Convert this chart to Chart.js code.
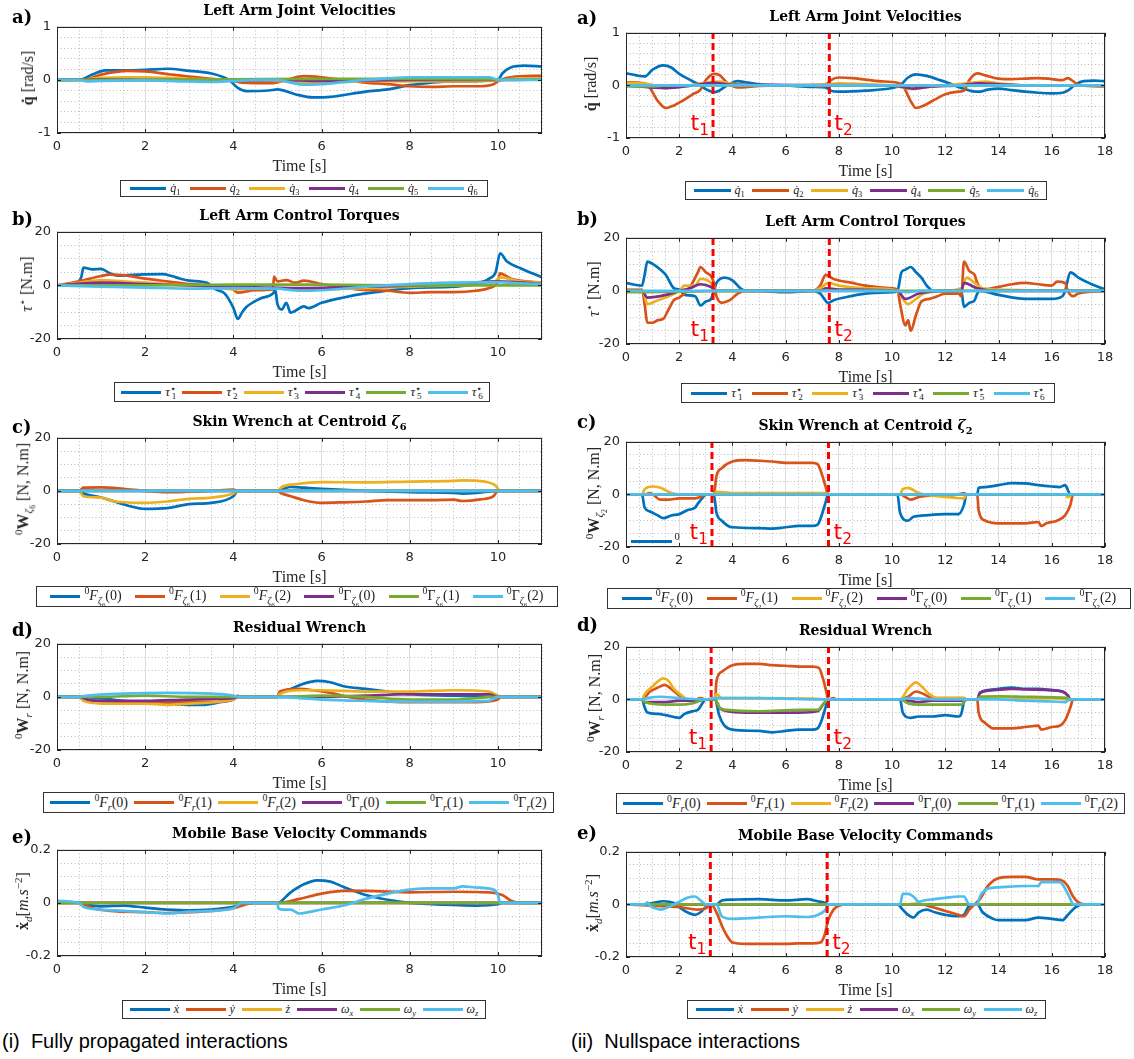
<!DOCTYPE html>
<html>
<head>
<meta charset="utf-8">
<script src="https://cdn.jsdelivr.net/npm/chart.js@4.4.1/dist/chart.umd.min.js"></script>
<style>
  html, body { margin: 0; padding: 0; background: #fff; }
  #fig { position: relative; width: 1134px; height: 1059px; overflow: hidden; }
  #fig canvas { position: absolute; }
  .txt { position: absolute; white-space: nowrap; color: #000; }
  .letter { font: bold 18px "DejaVu Serif", serif; transform: translateY(-50%); }
  .title { font: bold 14px "DejaVu Serif", serif; transform: translate(-50%, -50%); }
  .xlab { font: 16px "Liberation Serif", serif; transform: translate(-50%, -50%); color: #262626; }
  .ylab { font: 16px "Liberation Serif", serif; transform: translate(-50%, -50%) rotate(-90deg); color: #262626; }
  .legend { position: absolute; box-sizing: border-box; border: 1px solid #333; background: #fff; display: flex; align-items: center; justify-content: space-evenly; font-family: "Liberation Serif", serif; color: #222; }
  .legend .it { display: flex; align-items: center; }
  .legend .ln { display: inline-block; height: 3px; margin-right: 4px; }
  sub, sup { font-size: 70%; line-height: 0; }
  .star { font-size: 75%; vertical-align: 0.45em; line-height: 0; }
  .lo { font-size: 70%; vertical-align: -0.3em; line-height: 0; margin-left: -0.45em; }
  .caption { font: 20px "Liberation Sans", sans-serif; transform: translateY(-50%); }
  .tlab { font: 22px "DejaVu Sans", sans-serif; color: #f00; line-height: 22px; }
</style>
</head>
<body>
<div id="fig"></div>
<script>
// tick labels
const xTicksLeft = [0, 2, 4, 6, 8, 10]
const xTicksRight = [0, 2, 4, 6, 8, 10, 12, 14, 16, 18]
const yTicksVel = [-1, 0, 1]
const yTicksWrench = [-20, 0, 20]
const yTicksBase = [-0.2, 0, 0.2]

// t1 / t2 events (right column)
const eventsA = [3.27, 7.64]
const eventsB = [3.27, 7.64]
const eventsC = [3.23, 7.61]
const eventsD = [3.2, 7.61]
const eventsE = [3.17, 7.56]

// ---- (i) fully propagated: a) joint velocities
const La_q1 = [[0,0],[0.5,0],[0.8,0.1],[1.1,0.18],[1.5,0.18],[2,0.19],[2.5,0.21],[3,0.17],[3.5,0.12],[3.9,0],[4.1,-0.15],[4.3,-0.21],[4.8,-0.2],[5,-0.18],[5.4,-0.27],[5.8,-0.33],[6.2,-0.32],[7,-0.22],[7.5,-0.18],[8,-0.1],[9,-0.03],[10,0],[10.1,0.12],[10.3,0.24],[10.6,0.27],[11,0.25]]
const La_q2 = [[0,0],[0.6,0],[1,0.1],[1.6,0.17],[2,0.16],[2.5,0.11],[3,0.06],[3.5,0.02],[4,-0.02],[4.2,-0.05],[4.9,-0.06],[5.2,0],[5.6,0.07],[6,0.05],[6.5,0],[7,-0.05],[7.5,-0.08],[8,-0.12],[8.5,-0.13],[9,-0.12],[9.5,-0.12],[9.9,-0.08],[10.05,0],[10.3,0.05],[11,0.08]]
const La_q3 = [[0,0],[0.5,0],[1,0.04],[1.5,0.05],[2,0.05],[3,0.02],[4,0],[5,-0.02],[5.5,-0.05],[6,-0.06],[6.5,-0.04],[7,-0.02],[8,-0.03],[9,-0.03],[10,-0.01],[10.5,0.03],[11,0.03]]
const La_q4 = [[0,0],[1,0.01],[2,0],[4,-0.01],[5,0],[6,-0.02],[8,0],[10,0],[11,0.01]]
const La_q5 = [[0,0],[2,0],[4,0.01],[6,0.02],[8,0.02],[10,0.01],[11,0.01]]
const La_q6 = [[0,0],[0.5,0],[0.7,-0.03],[1,-0.02],[2,-0.01],[3,-0.03],[3.5,-0.04],[4,-0.02],[4.5,0],[5,0],[5.3,-0.05],[5.6,-0.09],[6,-0.08],[6.5,-0.04],[7,0],[7.5,0.03],[8,0.05],[9,0.05],[9.8,0.05],[10,0],[11,0]]

// b) control torques
const Lb_t1 = [[0,0],[0.3,0],[0.45,1],[0.55,3],[0.6,6.6],[0.8,6],[1,6.2],[1.2,4.5],[1.4,3.6],[1.6,3.8],[2,4.1],[2.4,4.2],[2.6,3.5],[2.8,2.5],[3,1.8],[3.4,1],[3.6,-1.5],[3.8,-3],[4,-8.4],[4.1,-12.5],[4.2,-10],[4.3,-8],[4.6,-5],[4.9,-3],[4.95,-1.8],[5,-7],[5.1,-9],[5.2,-6.5],[5.3,-10.2],[5.5,-8.5],[5.6,-7.8],[5.7,-8.5],[6,-6.5],[6.5,-4.5],[7,-3],[7.5,-2],[8,-1],[9,-0.5],[9.5,0.5],[9.8,2.5],[9.95,5],[10.05,12],[10.2,9],[10.5,6.5],[11,3]]
const Lb_t2 = [[0,0],[0.5,1.5],[1,3.5],[1.2,4],[1.5,3.8],[2,2.5],[2.5,1.5],[3,0.5],[3.5,0],[4,-1.5],[4.1,-2.7],[4.5,-1.8],[4.9,-1.5],[4.92,3.3],[5,1.5],[5.2,2],[5.4,1],[5.6,1.8],[6,0.5],[6.4,-0.5],[6.8,-1.5],[7.5,-2],[8,-2.8],[8.5,-2.5],[9,-2.5],[9.5,-2],[9.8,-1],[10,1.5],[10.05,4.5],[10.3,2.5],[11,1]]
const Lb_t3 = [[0,0],[0.5,1],[1,2],[1.5,1.5],[2,1],[3,0],[3.5,-0.5],[4,-1.5],[5,-1],[6,-1.5],[7,-1],[8,-0.5],[9,0],[9.9,1],[10.05,3],[10.5,1.5],[11,1]]
const Lb_t4 = [[0,0],[1,1],[2,0.5],[4,-0.5],[5.5,-1],[7,-0.5],[9,0.5],[10,1.5],[11,0.5]]
const Lb_t5 = [[0,0],[2,0],[4,0.3],[6,0.3],[8,0],[10,0],[11,0]]
const Lb_t6 = [[0,0],[1,-0.5],[2,-0.8],[3,-1.2],[4,-1],[5,-1.2],[5.5,-2],[6,-1.8],[7,-0.5],[8,0.5],[9,1],[10,1.2],[10.5,0.8],[11,0.5]]

// c) skin wrench
const Lc_F0 = [[0,0],[0.5,0],[0.6,-1],[1,-2.5],[1.3,-4],[1.6,-5.5],[2,-6.8],[2.5,-6.5],[3,-5],[3.5,-4.5],[4,-2],[4.1,0],[5,0],[5.1,0.5],[5.3,1.5],[5.6,1.2],[6,0.8],[7,0],[8,-0.5],[9,-0.8],[9.2,-1],[9.5,-0.8],[10,0],[11,0]]
const Lc_F1 = [[0,0],[0.5,0],[0.6,1.2],[1,1.3],[1.5,0.8],[2,0],[2.5,-0.5],[3,-0.3],[3.5,0],[4,0.5],[4.1,0],[5,0],[5.1,-1],[5.3,-2],[5.6,-3.5],[6,-4.5],[6.5,-4.3],[7,-4],[7.5,-3.5],[8,-3.5],[8.5,-3.5],[9,-3.3],[9.2,-3.8],[9.6,-3.2],[9.9,-2],[10,0],[11,0]]
const Lc_F2 = [[0,0],[0.5,0],[0.6,-2],[1,-2.5],[1.3,-4],[2,-4.5],[2.5,-4],[3,-3],[3.5,-2.5],[4,-1],[4.1,0],[5,0],[5.1,1.5],[5.4,2.5],[6,3.3],[7,3.2],[8,3.5],[9,3.8],[9.2,4],[9.7,3.5],[9.95,2],[10.05,0],[11,0]]
const Lc_G0 = [[0,0],[11,0]]
const Lc_G1 = [[0,0],[11,0]]
const Lc_G2 = [[0,0],[11,0]]

// d) residual wrench
const Ld_F0 = [[0,0],[0.5,0],[1,-0.5],[1.5,-1.5],[2,-2],[2.5,-2.5],[3,-3],[3.3,-3],[3.7,-2],[4,-1],[4.1,0],[5,0],[5.05,1.5],[5.3,3],[5.6,5],[5.9,6],[6.2,5.5],[6.5,4],[7,3],[7.5,2],[8,1],[9,0.5],[10,0],[11,0]]
const Ld_F1 = [[0,0],[0.5,0],[0.6,-1],[1,-1.5],[2,-2],[3,-2],[3.5,-2],[4,-1],[4.1,0.5],[4.15,0],[5,0],[5.05,2],[5.5,3],[5.8,2.5],[6.2,1.5],[6.6,0],[7,-1],[8,-2],[9,-2],[9.5,-2],[10,-1],[10.05,0],[11,0]]
const Ld_F2 = [[0,0],[0.5,0],[0.6,-1.5],[1,-2.5],[2,-2.5],[2.5,-3],[3,-2.5],[4,-1],[4.1,0],[5,0],[5.05,1],[5.5,2.5],[6,2.5],[7,2],[8,2],[9,2.5],[9.8,2],[10,0.5],[10.1,0],[11,0]]
const Ld_G0 = [[0,0],[0.5,0],[0.7,-1],[1,-1.5],[2,-1.5],[3,-1],[4,-0.5],[4.1,0],[5,0],[6,0],[7,0.5],[8,1],[9,1],[9.8,1],[10,0],[11,0]]
const Ld_G1 = [[0,0],[1,0],[2,0.5],[3,0],[5,0],[6,0.5],[7,0],[8,-1],[9,-1],[10,0],[11,0]]
const Ld_G2 = [[0,0],[0.5,0],[0.7,0.5],[1.5,1.2],[2.5,1.5],[3.5,1.2],[4,0.5],[4.1,0],[5,0],[5.5,-0.5],[6,-1],[7,-1.5],[8,-1.8],[9,-1.8],[9.8,-1.5],[10,0],[11,0]]

// e) mobile base velocity
const Le_xd = [[0,0.005],[0.5,0],[0.8,-0.01],[1,-0.013],[1.5,-0.01],[2,-0.018],[2.5,-0.025],[3,-0.028],[3.5,-0.025],[4,-0.015],[4.2,-0.005],[4.5,0],[5,0],[5.3,0.04],[5.6,0.07],[5.9,0.085],[6.2,0.08],[6.5,0.06],[7,0.03],[7.5,0.012],[8,0],[8.5,-0.005],[9,-0.008],[9.5,-0.01],[10,-0.005],[10.1,0],[11,0]]
const Le_yd = [[0,0],[0.5,0],[0.8,-0.02],[1.2,-0.03],[2,-0.035],[2.5,-0.038],[3,-0.035],[3.5,-0.03],[4,-0.02],[4.3,-0.005],[4.5,0],[5,0],[5.5,0.015],[6,0.035],[6.5,0.045],[7,0.045],[8,0.04],[9,0.042],[9.8,0.04],[10.1,0.03],[10.3,0.008],[10.5,0],[11,0]]
const Le_zd = [[0,0],[11,0]]
const Le_wx = [[0,0],[11,0]]
const Le_wy = [[0,0],[11,0]]
const Le_wz = [[0,0.008],[0.5,0],[0.6,-0.015],[1,-0.025],[1.5,-0.03],[2,-0.035],[2.5,-0.04],[3,-0.033],[3.5,-0.03],[4,-0.02],[4.2,0],[5,0],[5.02,-0.02],[5.1,-0.025],[5.3,-0.025],[5.5,-0.04],[5.7,-0.035],[6,-0.025],[6.5,-0.01],[7,0.015],[7.5,0.035],[8,0.05],[8.5,0.055],[9,0.055],[9.2,0.062],[9.5,0.058],[9.9,0.05],[10,0.03],[10.05,0],[11,0]]

// ---- (ii) nullspace: a) joint velocities
const Ra_q1 = [[0,0.23],[0.4,0.19],[0.7,0.17],[1,0.3],[1.4,0.38],[1.7,0.34],[2,0.22],[2.5,0.08],[2.8,0],[3,-0.07],[3.3,-0.13],[3.5,-0.1],[3.8,0],[4.2,0.08],[4.5,0.06],[5,0.02],[6,0],[7,-0.03],[7.5,-0.04],[7.7,-0.1],[8,-0.12],[9,-0.1],[10,-0.05],[10.3,0],[10.6,0.15],[10.9,0.21],[11.3,0.18],[11.8,0.1],[12.2,0.03],[12.6,-0.05],[13,-0.11],[13.3,-0.12],[13.6,-0.08],[14,-0.06],[14.5,-0.09],[15,-0.12],[15.5,-0.14],[16,-0.15],[16.4,-0.14],[16.6,-0.1],[16.9,0.02],[17.2,0.08],[17.6,0.09],[18,0.08]]
const Ra_q2 = [[0,0.06],[0.7,0.04],[0.9,-0.05],[1.2,-0.3],[1.5,-0.43],[1.8,-0.38],[2.1,-0.3],[2.5,-0.17],[2.8,-0.08],[3,0.1],[3.3,0.22],[3.5,0.2],[3.8,0.05],[4.2,-0.04],[4.6,-0.03],[5,-0.01],[6,0],[7,0],[7.3,-0.02],[7.5,0],[7.7,0.1],[8,0.15],[8.5,0.14],[9,0.11],[9.5,0.08],[10.2,0.05],[10.4,0],[10.7,-0.3],[10.9,-0.43],[11.2,-0.38],[11.6,-0.27],[12,-0.17],[12.5,-0.12],[12.7,-0.1],[12.9,0.1],[13.2,0.23],[13.5,0.19],[14,0.13],[14.5,0.12],[15,0.13],[15.5,0.14],[16,0.12],[16.4,0.1],[16.6,0.14],[16.8,0.08],[17,0.01],[18,-0.02]]
const Ra_q3 = [[0,0.05],[0.8,0.03],[1.5,-0.05],[2,-0.03],[3,0.05],[3.5,0.07],[4,0.03],[5,0],[7.6,0.02],[8,0.04],[9,0.02],[10,0],[10.8,-0.07],[11.2,-0.04],[12,0],[13,0.05],[13.5,0.07],[14,0.04],[15,0],[18,0]]
const Ra_q4 = [[0,0],[1.5,-0.05],[2.5,0],[3.3,0.05],[4,0.01],[10,0],[10.8,-0.06],[11.5,-0.02],[12.5,0],[13.3,0.04],[14,0.02],[15,0],[18,0]]
const Ra_q5 = [[0,-0.02],[1,-0.02],[1.5,0],[18,0]]
const Ra_q6 = [[0,0],[6,0],[12,0],[18,0]]

// b) control torques
const Rb_t1 = [[0,3],[0.6,2],[0.7,6],[0.8,11],[1,10.2],[1.3,8],[1.5,6],[1.8,1],[2,0.5],[2.2,-1.5],[2.6,-2],[2.8,-5.5],[3,-4],[3.2,-3],[3.3,0],[3.4,3],[3.7,5],[4,4],[4.3,1],[4.5,0],[5,0],[6,-0.5],[7,0],[7.3,-1],[7.6,-4.5],[7.8,-3.5],[8.2,-2.5],[9,-1],[10,-0.5],[10.2,0],[10.35,7],[10.5,8],[10.7,9],[10.9,7],[11.1,5],[11.3,2],[11.4,1],[11.5,0],[12.6,0],[12.7,-6],[12.9,-4.5],[13.1,-3.5],[13.2,-1],[13.3,0],[14,-1.5],[15,-3],[16,-3],[16.4,-2],[16.5,0],[16.7,7],[17,5],[17.5,2.5],[18,0.5]]
const Rb_t2 = [[0,0.5],[0.6,0.5],[0.7,-5],[0.8,-12],[1,-12],[1.2,-11],[1.4,-10.5],[1.6,-7],[1.8,-3.5],[2,-2.5],[2.3,0],[2.5,3],[2.7,7],[2.8,9],[3,7],[3.2,5.5],[3.3,3],[3.4,-2],[3.6,-4.5],[3.9,-3.5],[4.2,-1],[4.5,0],[7,0],[7.3,2],[7.5,6],[7.8,4.5],[8.5,3],[9,2],[10,1],[10.2,0.5],[10.3,-5],[10.5,-13],[10.6,-11],[10.7,-15],[10.9,-9],[11.1,-4],[11.4,-3],[11.7,-2],[12,-1],[12.5,-1],[12.6,-2],[12.7,11],[12.9,7.5],[13.1,6],[13.2,3],[13.4,0.5],[14,1.5],[14.5,2.5],[15,3],[15.5,2.5],[16,2],[16.2,3.5],[16.5,3],[16.6,0],[16.8,-2],[17,-1],[18,0]]
const Rb_t3 = [[0,0.5],[0.6,0.5],[0.7,-2],[0.8,-5],[1.2,-3.5],[1.6,-2],[2,0],[2.2,2],[2.6,2],[2.8,4.5],[3.2,3],[3.4,0],[7,0],[7.3,1],[7.6,3],[8,2],[9,1],[10,0.5],[10.3,-1],[10.4,-3],[10.6,-5],[10.9,-3],[11.2,-1],[12,0],[12.6,1],[12.8,5],[13.1,3],[13.4,1],[14,0.5],[18,0]]
const Rb_t4 = [[0,0],[0.6,0],[0.8,-2.5],[1.5,-1.5],[2,0],[2.4,1],[2.8,2.5],[3.2,1.5],[3.4,0],[7.3,0],[7.5,1],[8,0.5],[10.2,0],[10.5,-3],[11,-1],[12,0],[12.6,0],[12.7,3],[13.2,1],[14,0],[18,0]]
const Rb_t5 = [[0,-0.5],[2,-0.3],[4,0],[18,0]]
const Rb_t6 = [[0,0],[10.2,0],[10.5,-0.5],[11,0],[18,0]]

// c) skin wrench
const Rc_F0 = [[0,0],[0.6,0],[0.7,-5],[0.9,-6.5],[1.2,-8],[1.4,-9],[1.7,-8],[2,-7.5],[2.3,-6],[2.6,-5],[2.7,-3.5],[2.9,-1],[3,0],[3.3,0],[3.4,-7],[3.6,-10],[4,-12.5],[5,-12.8],[5.5,-13],[6,-12.5],[6.5,-12],[7,-12],[7.2,-11.5],[7.35,-8],[7.5,-3],[7.6,0],[10.2,0],[10.3,-7],[10.6,-10],[10.8,-8.5],[11.2,-8],[12,-7.5],[12.5,-7.5],[12.7,-4],[12.8,0],[13.2,0],[13.25,2.5],[13.5,2.8],[14,3.5],[14.5,4.3],[15,4.2],[15.5,3.5],[16,3],[16.3,2.8],[16.5,3.5],[16.7,0],[18,0]]
const Rc_F1 = [[0,0],[0.7,0],[0.9,0.5],[1.3,-2],[1.6,-2],[2,-1.5],[2.6,-1.5],[2.9,-0.5],[3,0],[3.3,0],[3.4,7],[3.6,10],[4,12.5],[4.5,13],[5,12.8],[5.5,12.5],[6,12],[6.5,12],[7,12],[7.2,11.5],[7.35,8],[7.5,3],[7.6,0],[10.3,0],[10.5,-1],[10.7,-2],[11,-1],[11.5,-0.5],[12,-0.5],[12.5,0],[12.7,0.5],[12.8,0],[13.2,0],[13.25,-6],[13.5,-10],[14,-11],[14.5,-11],[15,-11],[15.5,-10.5],[15.6,-12],[15.8,-11],[16.2,-10],[16.5,-8],[16.7,-4],[16.8,0],[18,0]]
const Rc_F2 = [[0,0],[0.6,0],[0.7,2],[1,3],[1.3,2.5],[1.7,0.5],[2,0],[3.3,0],[3.4,1],[4,0.5],[7.5,0.5],[7.6,0],[10.3,0],[10.4,2],[10.6,2.5],[11,0.5],[12,-1],[12.7,-1.5],[12.8,0],[16.5,0],[16.6,-1],[16.8,0],[18,0]]
const Rc_G0 = [[0,0],[18,0]]
const Rc_G1 = [[0,0],[18,0]]
const Rc_G2 = [[0,0],[18,0]]

// d) residual wrench
const Rd_F0 = [[0,0],[0.6,0],[0.7,-3],[0.8,-5],[1.2,-5.5],[1.5,-6],[2,-7],[2.2,-5.5],[2.5,-4.5],[2.7,-4],[2.9,-1],[3,0],[3.35,0],[3.5,-6],[3.7,-10],[4,-11.5],[5,-12],[5.5,-12.5],[6,-12],[6.5,-11.5],[7,-11.5],[7.2,-11],[7.35,-8],[7.5,-3],[7.6,0],[10.3,0],[10.4,-5],[10.7,-7],[11,-6.5],[11.5,-6.5],[12,-6],[12.5,-6.5],[12.6,-5.5],[12.7,-1],[12.8,0],[13.2,0],[13.3,2.5],[13.6,3.5],[14,4],[14.5,4.5],[15,4],[15.5,4],[16,3.5],[16.4,3],[16.6,1.5],[16.7,0],[18,0]]
const Rd_F1 = [[0,0],[0.6,0],[0.9,3],[1.2,4.5],[1.45,5.5],[1.7,4],[2,1.5],[2.2,0],[2.5,-0.5],[2.8,0.5],[3,0],[3.35,0],[3.4,7],[3.6,10.5],[4,13],[4.5,13.5],[5,13.5],[5.5,13],[6,12.8],[6.5,12.5],[7,12.5],[7.25,12],[7.4,8],[7.55,2],[7.6,0],[7.8,0.5],[7.9,0],[10.3,0],[10.6,1],[10.9,3],[11.2,2],[11.5,0.5],[12.7,0.5],[12.8,0],[13.2,0],[13.25,-5],[13.5,-9],[13.8,-11],[14.5,-11],[15,-10.5],[15.5,-10],[15.6,-11.5],[16,-10.5],[16.3,-10],[16.5,-8],[16.7,-3],[16.8,0],[18,0]]
const Rd_F2 = [[0,0],[0.6,0],[0.7,2],[1,5],[1.4,8],[1.6,7],[1.8,4],[2.1,1.5],[2.3,0],[3.3,0],[3.4,2],[3.6,0.5],[4,0.5],[7,0.3],[7.6,0],[10.3,0],[10.6,4],[10.9,6.5],[11.1,5],[11.4,2],[11.7,0.5],[12.7,0.5],[12.8,0],[13.2,0],[13.3,1],[14,1],[15,0.5],[16,0.5],[16.6,0],[18,0]]
const Rd_G0 = [[0,0],[0.6,0],[0.7,-1],[1.5,-1],[2,-0.5],[2.5,-0.5],[3,0],[3.35,0],[3.5,-3],[3.8,-4.5],[4.5,-5],[5.5,-5],[6.5,-5],[7.2,-4.5],[7.4,-2],[7.6,0],[10.3,0],[10.6,-0.5],[11,-1],[11.5,-0.5],[12.7,-0.5],[12.8,0],[13.2,0],[13.3,2.5],[13.8,3.5],[14.5,4],[15,3.8],[16,3.5],[16.4,3],[16.6,1.5],[16.7,0],[18,0]]
const Rd_G1 = [[0,0],[0.6,0],[0.7,-1],[1.5,-2],[2,-2],[2.5,-1.5],[3,0],[3.35,0],[3.5,-3],[3.8,-4],[5,-4.5],[6.5,-4],[7.2,-4],[7.4,-2],[7.6,0],[10.3,0],[10.6,-1.5],[11,-2],[12,-2],[12.6,-2],[12.8,0],[13.2,0],[13.3,1],[14,1.2],[15,1],[16,0.8],[16.6,0.5],[16.7,0],[18,0]]
const Rd_G2 = [[0,0],[0.6,0],[0.8,0.5],[1.3,1],[2,0.5],[3,0],[3.3,0.5],[4,0.5],[5,0.5],[6,0.3],[7,0],[10.3,0],[10.6,0.5],[11,0.3],[12,0],[14,0],[15,-0.5],[16,-0.8],[16.5,-1],[16.7,0],[18,0]]

// e) mobile base velocity
const Re_xd = [[0,0],[0.7,0],[1,0.005],[1.4,0.012],[1.8,0.005],[2,-0.01],[2.3,-0.03],[2.6,-0.04],[2.8,-0.03],[3,-0.01],[3.2,0],[3.4,0],[3.6,0.015],[4,0.018],[5,0.02],[6,0.015],[6.8,0.02],[7.2,0.012],[7.5,0.005],[7.6,0],[10.2,0],[10.4,-0.02],[10.6,-0.04],[10.8,-0.05],[11,-0.03],[11.3,-0.02],[11.6,-0.03],[12,-0.04],[12.5,-0.045],[12.7,-0.04],[12.9,-0.005],[13.2,0],[13.4,-0.03],[13.8,-0.055],[14,-0.06],[15,-0.06],[15.5,-0.05],[16,-0.055],[16.4,-0.06],[16.6,-0.04],[16.9,-0.01],[17.2,0],[18,0]]
const Re_yd = [[0,0],[1,-0.005],[2,-0.01],[2.7,-0.02],[3,-0.015],[3.2,0],[3.4,-0.03],[3.6,-0.08],[3.8,-0.12],[4,-0.145],[4.5,-0.15],[5,-0.15],[6,-0.15],[6.5,-0.148],[7,-0.148],[7.3,-0.145],[7.45,-0.12],[7.6,-0.06],[7.8,-0.02],[8,-0.005],[8.3,0],[10.5,0],[11,0.002],[11.5,-0.01],[12,-0.025],[12.5,-0.04],[12.7,-0.045],[12.9,-0.02],[13.1,0],[13.3,0.02],[13.6,0.07],[14,0.1],[14.5,0.105],[15,0.105],[15.5,0.095],[16,0.095],[16.4,0.09],[16.6,0.07],[16.8,0.03],[17,0.008],[17.3,0],[18,0]]
const Re_zd = [[0,0],[18,0]]
const Re_wx = [[0,0],[18,0]]
const Re_wy = [[0,0],[18,0]]
const Re_wz = [[0,0],[0.7,0],[0.8,0.008],[0.9,-0.005],[1.1,-0.015],[1.3,-0.02],[1.6,-0.01],[2,0.01],[2.3,0.025],[2.6,0.03],[2.8,0.015],[3,0],[3.4,0],[3.6,-0.045],[4,-0.055],[5,-0.05],[6,-0.045],[6.7,-0.048],[7.2,-0.04],[7.5,-0.02],[7.6,0],[10.3,0],[10.4,0.04],[10.6,0.04],[10.8,0.03],[11,0.01],[11.2,0.015],[11.6,0.02],[12,0.025],[12.5,0.03],[12.7,0.03],[12.9,0],[13.2,0],[13.3,0.03],[13.6,0.06],[14,0.065],[15,0.07],[15.5,0.07],[15.6,0.085],[16,0.085],[16.3,0.085],[16.5,0.06],[16.7,0.02],[16.8,0],[18,0]]

const COLORS = ["#0072BD", "#D95319", "#EDB120", "#7E2F8E", "#77AC30", "#4DBEEE"]

// legend / axis label text
const qLabels = [1, 2, 3, 4, 5, 6].map((i) => `<i>q&#775;</i><sub>${i}</sub>`)
const tauLabels = [1, 2, 3, 4, 5, 6].map((i) => `<i>τ</i><span class="star">⋆</span><span class="lo">${i}</span>`)
const skinLabels = (z) => [
  `<sup>0</sup><i>F</i><sub><i>ζ</i><sub>${z}</sub></sub>(0)`,
  `<sup>0</sup><i>F</i><sub><i>ζ</i><sub>${z}</sub></sub>(1)`,
  `<sup>0</sup><i>F</i><sub><i>ζ</i><sub>${z}</sub></sub>(2)`,
  `<sup>0</sup>Γ<sub><i>ζ</i><sub>${z}</sub></sub>(0)`,
  `<sup>0</sup>Γ<sub><i>ζ</i><sub>${z}</sub></sub>(1)`,
  `<sup>0</sup>Γ<sub><i>ζ</i><sub>${z}</sub></sub>(2)`,
]
const resLabels = [
  "<sup>0</sup><i>F</i><sub><i>r</i></sub>(0)", "<sup>0</sup><i>F</i><sub><i>r</i></sub>(1)", "<sup>0</sup><i>F</i><sub><i>r</i></sub>(2)",
  "<sup>0</sup>Γ<sub><i>r</i></sub>(0)", "<sup>0</sup>Γ<sub><i>r</i></sub>(1)", "<sup>0</sup>Γ<sub><i>r</i></sub>(2)",
]
const baseLabels = ["<i>x&#775;</i>", "<i>y&#775;</i>", "<i>z&#775;</i>", "<i>ω</i><sub><i>x</i></sub>", "<i>ω</i><sub><i>y</i></sub>", "<i>ω</i><sub><i>z</i></sub>"]

const yLabVel = "<b>q&#775;</b> [rad/s]"
const yLabTau = "<i>τ</i><sup>⋆</sup> [N.m]"
const yLabSkin = (z) => `<sup>0</sup><b>W</b><sub><i>ζ</i><sub>${z}</sub></sub> [N, N.m]`
const yLabRes = "<sup>0</sup><b>W</b><sub><i>r</i></sub> [N, N.m]"
const yLabBase = "<b>x&#775;</b><sub><i>d</i></sub>[<i>m.s</i><sup>−2</sup>]"

const panels = [
  { letter: "a)", lx: 12, ly: 16, title: "Left Arm Joint Velocities", rect: [57, 23, 542, 133], xMax: 11, xTicks: xTicksLeft,
    y: [-1, 1, 0.2], yTicks: yTicksVel, ylab: yLabVel, ylx: 28, series: [La_q1, La_q2, La_q3, La_q4, La_q5, La_q6],
    legend: [120, 180, 368, 17], ll: 36, lfs: 12, labels: qLabels },
  { letter: "b)", lx: 12, ly: 218, title: "Left Arm Control Torques", rect: [57, 228, 542, 339], xMax: 11, xTicks: xTicksLeft,
    y: [-20, 20, 5], yTicks: yTicksWrench, ylab: yLabTau, ylx: 27, series: [Lb_t1, Lb_t2, Lb_t3, Lb_t4, Lb_t5, Lb_t6],
    legend: [114, 382, 376, 20], ll: 40, lfs: 13, labels: tauLabels },
  { letter: "c)", lx: 12, ly: 426, title: "Skin Wrench at Centroid <i>ζ</i><sub>6</sub>", rect: [57, 434, 542, 544], xMax: 11, xTicks: xTicksLeft,
    y: [-20, 20, 5], yTicks: yTicksWrench, ylab: yLabSkin(6), ylx: 24, series: [Lc_F0, Lc_F1, Lc_F2, Lc_G0, Lc_G1, Lc_G2],
    legend: [36, 586, 522, 21], ll: 30, lfs: 14, labels: skinLabels(6) },
  { letter: "d)", lx: 12, ly: 629, title: "Residual Wrench", rect: [57, 640, 542, 750], xMax: 11, xTicks: xTicksLeft,
    y: [-20, 20, 5], yTicks: yTicksWrench, ylab: yLabRes, ylx: 23, series: [Ld_F0, Ld_F1, Ld_F2, Ld_G0, Ld_G1, Ld_G2],
    legend: [43, 792, 511, 21], ll: 40, lfs: 14, labels: resLabels },
  { letter: "e)", lx: 12, ly: 836, title: "Mobile Base Velocity Commands", rect: [57, 846, 542, 956], xMax: 11, xTicks: xTicksLeft,
    y: [-0.2, 0.2, 0.05], yTicks: yTicksBase, ylab: yLabBase, ylx: 23, series: [Le_xd, Le_yd, Le_zd, Le_wx, Le_wy, Le_wz],
    legend: [122, 1000, 364, 19], ll: 40, lfs: 12, labels: baseLabels },

  { letter: "a)", lx: 577, ly: 17, title: "Left Arm Joint Velocities", rect: [626, 29, 1105, 138], xMax: 18, xTicks: xTicksRight,
    y: [-1, 1, 0.2], yTicks: yTicksVel, ylab: yLabVel, ylx: 591, series: [Ra_q1, Ra_q2, Ra_q3, Ra_q4, Ra_q5, Ra_q6],
    legend: [685, 181, 362, 19], ll: 37, lfs: 12, labels: qLabels, events: eventsA },
  { letter: "b)", lx: 577, ly: 218, title: "Left Arm Control Torques", rect: [626, 234, 1105, 344], xMax: 18, xTicks: xTicksRight,
    y: [-20, 20, 5], yTicks: yTicksWrench, ylab: yLabTau, ylx: 594, series: [Rb_t1, Rb_t2, Rb_t3, Rb_t4, Rb_t5, Rb_t6],
    legend: [681, 383, 374, 20], ll: 36, lfs: 13, labels: tauLabels, events: eventsB },
  { letter: "c)", lx: 577, ly: 421, title: "Skin Wrench at Centroid <i>ζ</i><sub>2</sub>", rect: [626, 438, 1105, 547], xMax: 18, xTicks: xTicksRight,
    y: [-20, 20, 5], yTicks: yTicksWrench, ylab: yLabSkin(2), ylx: 595, series: [Rc_F0, Rc_F1, Rc_F2, Rc_G0, Rc_G1, Rc_G2],
    legend: [607, 588, 524, 21], ll: 30, lfs: 14, labels: skinLabels(2), events: eventsC },
  { letter: "d)", lx: 577, ly: 624, title: "Residual Wrench", rect: [626, 643, 1105, 752], xMax: 18, xTicks: xTicksRight,
    y: [-20, 20, 5], yTicks: yTicksWrench, ylab: yLabRes, ylx: 595, series: [Rd_F0, Rd_F1, Rd_F2, Rd_G0, Rd_G1, Rd_G2],
    legend: [616, 793, 509, 21], ll: 40, lfs: 14, labels: resLabels, events: eventsD },
  { letter: "e)", lx: 577, ly: 832, title: "Mobile Base Velocity Commands", rect: [626, 848, 1105, 957], xMax: 18, xTicks: xTicksRight,
    y: [-0.2, 0.2, 0.05], yTicks: yTicksBase, ylab: yLabBase, ylx: 593, series: [Re_xd, Re_yd, Re_zd, Re_wx, Re_wy, Re_wz],
    legend: [687, 1000, 359, 19], ll: 38, lfs: 12, labels: baseLabels, events: eventsE },
]

const fig = document.getElementById("fig")

function addText(cls, html, style) {
  const d = document.createElement("div")
  d.className = "txt " + cls
  d.innerHTML = html
  Object.assign(d.style, style)
  fig.appendChild(d)
  return d
}

function stepTicks(min, max, step) {
  const n = Math.round((max - min) / step)
  const out = []
  for (let i = 0; i <= n; i++) out.push({ value: +(min + i * step).toFixed(6) })
  return out
}

const findMajor = (list, v) => list.find((m) => Math.abs(m - v) < 1e-6)

// box + inward major ticks, like the MATLAB axes
const framePlugin = {
  id: "frame",
  afterDraw(chart) {
    const { ctx, chartArea: a, scales } = chart
    const p = chart.options.plugins.frame
    ctx.save()
    ctx.strokeStyle = "#262626"
    ctx.lineWidth = 1
    ctx.beginPath()
    p.xTicks.forEach((t) => {
      const px = Math.round(scales.x.getPixelForValue(t)) + 0.5
      ctx.moveTo(px, a.bottom); ctx.lineTo(px, a.bottom - 4)
      ctx.moveTo(px, a.top); ctx.lineTo(px, a.top + 4)
    })
    p.yTicks.forEach((t) => {
      const py = Math.round(scales.y.getPixelForValue(t)) + 0.5
      ctx.moveTo(a.left, py); ctx.lineTo(a.left + 4, py)
      ctx.moveTo(a.right, py); ctx.lineTo(a.right - 4, py)
    })
    ctx.stroke()
    ctx.strokeRect(Math.round(a.left) + 0.5, Math.round(a.top) + 0.5, Math.round(a.right - a.left) - 1, Math.round(a.bottom - a.top) - 1)
    ctx.restore()
  },
}

const gridColor = (majors) => (c) => (c.tick && findMajor(majors, c.tick.value) !== undefined ? "#dedede" : "#bcbcbc")
const gridDash = (majors) => (c) => (c.tick && findMajor(majors, c.tick.value) === undefined ? [1, 2.5] : [])

panels.forEach((p) => {
  const [L, T, R, B] = p.rect
  const cw = R - L + 65
  const ch = B - T + 35
  const canvas = document.createElement("canvas")
  canvas.width = cw
  canvas.height = ch
  canvas.style.left = L - 50 + "px"
  canvas.style.top = T - 10 + "px"
  canvas.style.width = cw + "px"
  canvas.style.height = ch + "px"
  fig.appendChild(canvas)

  const [yMin, yMax, yStep] = p.y
  const datasets = p.series.map((s, i) => ({
    label: "s" + i,
    data: s.map(([x, y]) => ({ x, y })),
    borderColor: COLORS[i],
    borderWidth: 2.7,
    pointRadius: 0,
    fill: false,
    cubicInterpolationMode: "monotone",
    order: 10 - i,
  }))
  ;(p.events || []).forEach((t) => {
    datasets.push({
      label: "event",
      data: [{ x: t, y: yMin }, { x: t, y: yMax }],
      borderColor: "#ff0000",
      borderWidth: 3,
      borderDash: [7, 4],
      pointRadius: 0,
      fill: false,
      order: 0,
    })
  })

  const tickFont = { family: "DejaVu Sans", size: 13 }
  const chart = new Chart(canvas, {
    type: "line",
    data: { datasets },
    plugins: [framePlugin],
    options: {
      responsive: false,
      animation: false,
      devicePixelRatio: 1,
      layout: { padding: { left: 0, top: 10, right: 15, bottom: 0 } },
      plugins: {
        legend: { display: false },
        tooltip: { enabled: false },
        frame: { xTicks: p.xTicks, yTicks: p.yTicks },
      },
      scales: {
        x: {
          type: "linear",
          min: 0,
          max: p.xMax,
          afterBuildTicks: (ax) => { ax.ticks = stepTicks(0, p.xMax, 0.5) },
          afterFit: (ax) => { ax.height = 25 },
          ticks: {
            autoSkip: false, maxRotation: 0, padding: 6, font: tickFont, color: "#262626",
            callback: (v) => { const m = findMajor(p.xTicks, v); return m === undefined ? "" : String(m) },
          },
          grid: { drawTicks: false, lineWidth: 1, color: gridColor(p.xTicks) },
          border: { display: false, dash: gridDash(p.xTicks) },
        },
        y: {
          type: "linear",
          min: yMin,
          max: yMax,
          afterBuildTicks: (ax) => { ax.ticks = stepTicks(yMin, yMax, yStep) },
          afterFit: (ax) => { ax.width = 50 },
          ticks: {
            autoSkip: false, padding: 6, font: tickFont, color: "#262626",
            callback: (v) => { const m = findMajor(p.yTicks, v); return m === undefined ? "" : String(m) },
          },
          grid: { drawTicks: false, lineWidth: 1, color: gridColor(p.yTicks) },
          border: { display: false, dash: gridDash(p.yTicks) },
        },
      },
    },
  })

  const cx = (L + R) / 2
  addText("letter", p.letter, { left: p.lx + "px", top: p.ly + "px" })
  addText("title", p.title, { left: cx + "px", top: T - 13 + "px" })
  addText("xlab", "Time [s]", { left: cx + "px", top: B + 33 + "px" })
  addText("ylab", p.ylab, { left: p.ylx + "px", top: (T + B) / 2 + "px" })

  // legend box
  const [gx, gy, gw, gh] = p.legend
  const lg = document.createElement("div")
  lg.className = "legend"
  Object.assign(lg.style, { left: gx + "px", top: gy + "px", width: gw + "px", height: gh + "px", fontSize: p.lfs + "px" })
  lg.innerHTML = p.labels
    .map((lab, i) => `<span class="it"><span class="ln" style="width:${p.ll}px;background:${COLORS[i]}"></span><span>${lab}</span></span>`)
    .join("")
  fig.appendChild(lg)

  // t1 / t2 markers, placed from the chart's own x scale
  if (p.events) {
    const offX = L - 50
    const px1 = chart.scales.x.getPixelForValue(p.events[0]) + offX
    const px2 = chart.scales.x.getPixelForValue(p.events[1]) + offX
    addText("tlab", "t<sub>1</sub>", { left: px1 - 4 + "px", top: B - 26 + "px", transform: "translateX(-100%)" })
    addText("tlab", "t<sub>2</sub>", { left: px2 + 5 + "px", top: B - 26 + "px" })
  }
})

// stray legend fragment visible inside the right-hand skin wrench axes
const stray = document.createElement("div")
Object.assign(stray.style, { position: "absolute", left: "631px", top: "540px", width: "41px", height: "3px", background: COLORS[0] })
fig.appendChild(stray)
addText("xlab", "<sup>0</sup>", { left: "677px", top: "541px", fontSize: "15px" })

addText("caption", "(i)&nbsp; Fully propagated interactions", { left: "2px", top: "1041px" })
addText("caption", "(ii)&nbsp; Nullspace interactions", { left: "571px", top: "1041px" })
</script>
</body>
</html>
